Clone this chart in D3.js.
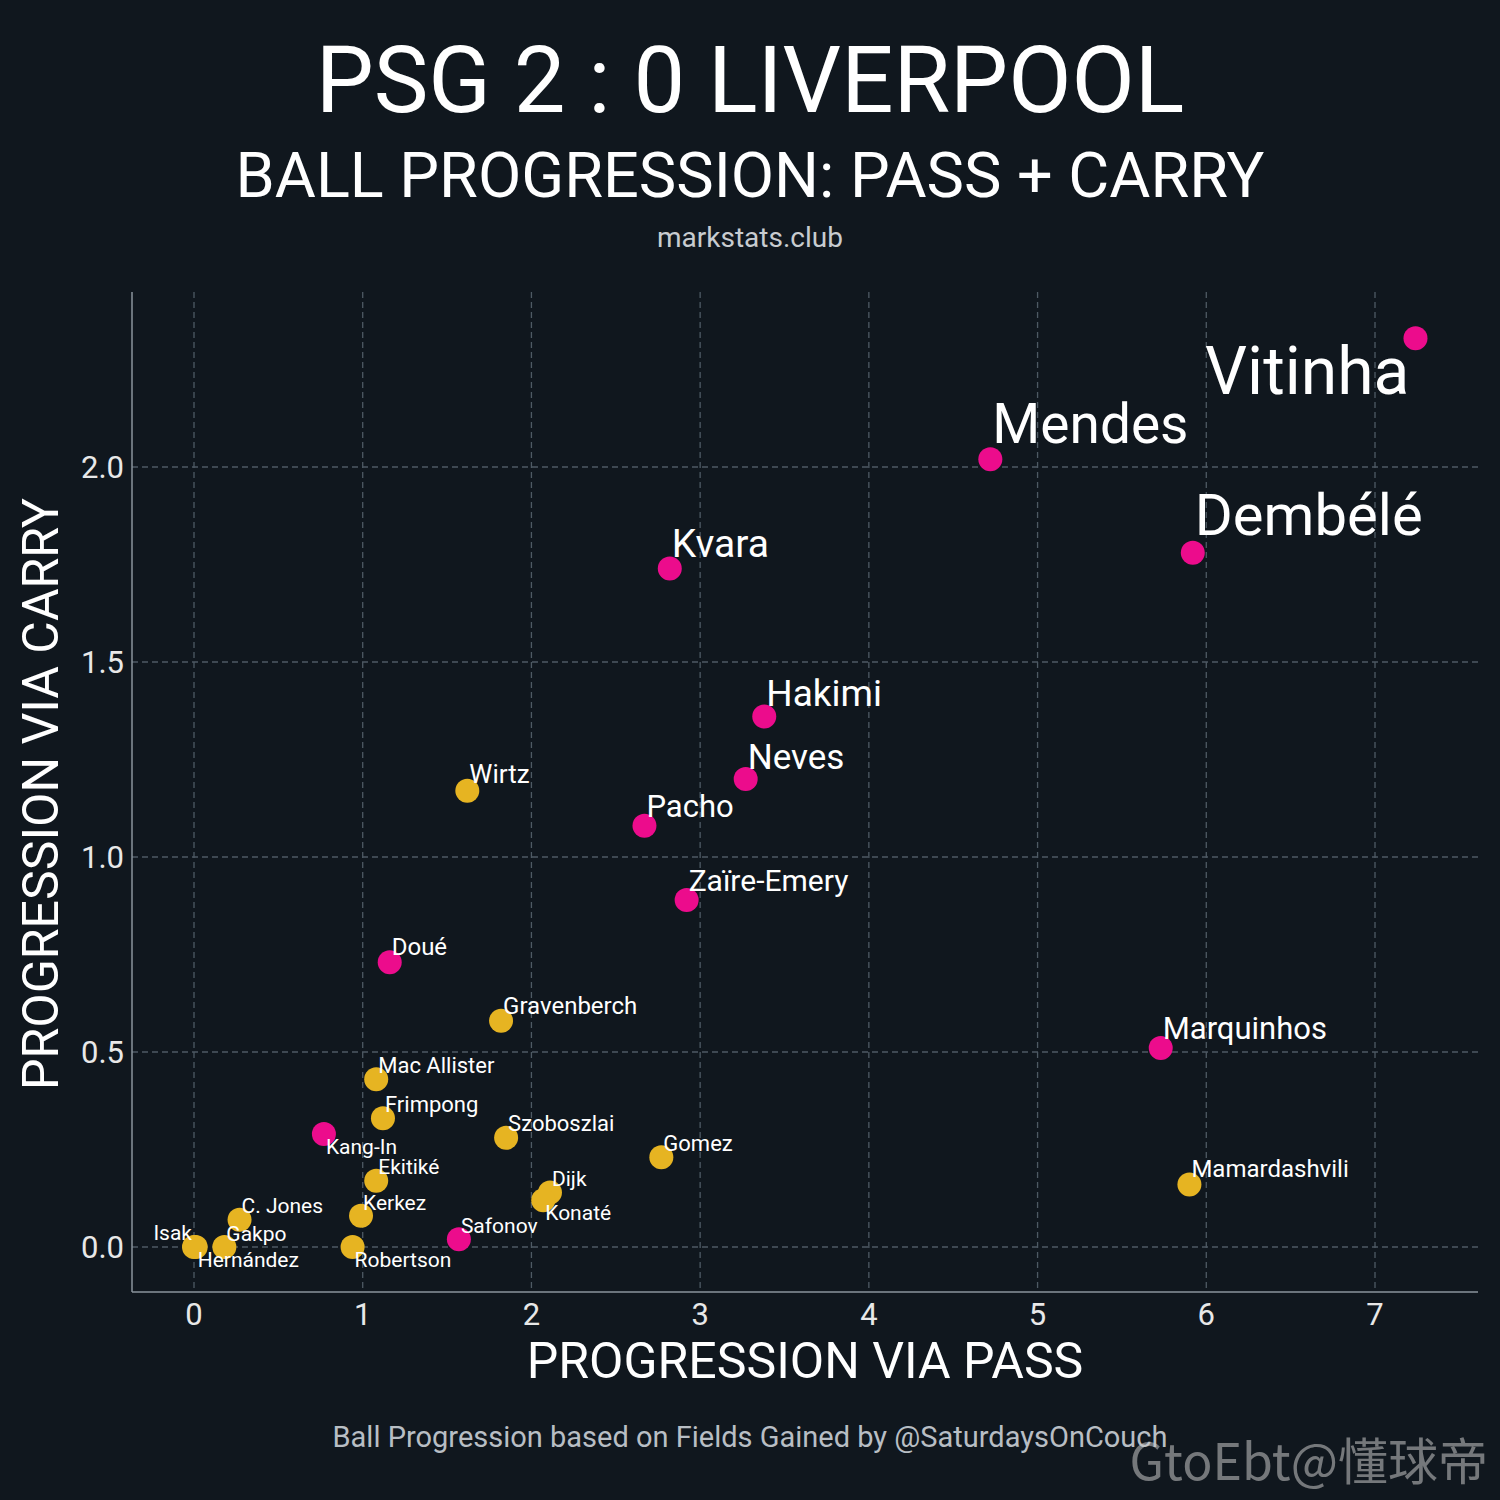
<!DOCTYPE html>
<html><head><meta charset="utf-8">
<script src="https://cdn.jsdelivr.net/npm/d3@7"></script>
<style>body{margin:0;background:#10171e}</style></head>
<body><svg id="c" width="1500" height="1500"></svg>
<script>
const players=["Vitinha","Mendes","Dembélé","Kvara","Hakimi","Neves","Pacho","Zaïre-Emery","Doué","Marquinhos","Safonov","Kang-In",
"Wirtz","Gravenberch","Mac Allister","Frimpong","Szoboszlai","Gomez","Mamardashvili","Ekitiké","Dijk","Konaté","Kerkez","C. Jones","Isak","Gakpo","Hernández","Robertson"];
const team=["PSG","PSG","PSG","PSG","PSG","PSG","PSG","PSG","PSG","PSG","PSG","PSG",
"LIV","LIV","LIV","LIV","LIV","LIV","LIV","LIV","LIV","LIV","LIV","LIV","LIV","LIV","LIV","LIV"];
const passProg=[7.24,4.72,5.92,2.82,3.38,3.27,2.67,2.92,1.16,5.73,1.57,0.77,1.62,1.82,1.08,1.12,1.85,2.77,5.90,1.08,2.11,2.07,0.99,0.27,0.0,0.18,0.01,0.94];
const carryProg=[2.33,2.02,1.78,1.74,1.36,1.20,1.08,0.89,0.73,0.51,0.02,0.29,1.17,0.58,0.43,0.33,0.28,0.23,0.16,0.17,0.14,0.12,0.08,0.07,0.0,0.0,0.0,0.0];
const labelSize=[66,55,58,39,37,35,31,30,24,31,21,21,26,24,22,22,22,22,24,21,21,21,21,21,21,21,21,21];
const labelPos=["belowleft","above","above","above","above","above","above","above","above","above","above","below",
"above","above","above","above","above","above","above","above","above","below","above","above","left","above","below","below"];
const xTicks=[0,1,2,3,4,5,6,7], yTicks=[0,0.5,1,1.5,2];

const svg=d3.select("#c"), F="Roboto, sans-serif";
svg.append("rect").attr("width",1500).attr("height",1500).attr("fill","#10171e");
const x=d3.scaleLinear().domain([0,7]).range([194,1375]);
const y=d3.scaleLinear().domain([0,2]).range([1247,467]);
const L=132,R=1478,T=292,B=1292;
svg.selectAll(".gx").data(xTicks).join("line").attr("x1",d=>x(d)).attr("x2",d=>x(d)).attr("y1",T).attr("y2",B)
 .attr("stroke","#4e5a64").attr("stroke-dasharray","6,4").attr("stroke-width",1.3);
svg.selectAll(".gy").data(yTicks).join("line").attr("y1",d=>y(d)).attr("y2",d=>y(d)).attr("x1",L).attr("x2",R)
 .attr("stroke","#4e5a64").attr("stroke-dasharray","6,4").attr("stroke-width",1.3);
svg.append("line").attr("x1",L).attr("x2",L).attr("y1",T).attr("y2",B).attr("stroke","#8a949c").attr("stroke-width",1.5);
svg.append("line").attr("x1",L).attr("x2",R).attr("y1",B).attr("y2",B).attr("stroke","#8a949c").attr("stroke-width",1.5);
svg.selectAll(".tx").data(xTicks).join("text").attr("x",d=>x(d)).attr("y",1325).attr("text-anchor","middle")
 .attr("fill","#e8e8e8").attr("font-family",F).attr("font-size",31).text(d=>d);
svg.selectAll(".ty").data(yTicks).join("text").attr("x",124).attr("y",d=>y(d)+11).attr("text-anchor","end")
 .attr("fill","#e8e8e8").attr("font-family",F).attr("font-size",31).text(d=>d.toFixed(1));
const t=(x0,y0,s,txt,col,anchor="middle")=>svg.append("text").attr("x",x0).attr("y",y0).attr("text-anchor",anchor)
 .attr("fill",col).attr("font-family",F).attr("font-size",s).text(txt);
t(750,112,92,"PSG 2 : 0 LIVERPOOL","#fff");
t(750,197,63,"BALL PROGRESSION: PASS + CARRY","#fff");
t(750,247,28,"markstats.club","#c8ccd0");
t(805,1378,50,"PROGRESSION VIA PASS","#fff");
svg.append("text").attr("transform","translate(58,794) rotate(-90)").attr("text-anchor","middle").attr("fill","#fff")
 .attr("font-family",F).attr("font-size",50).text("PROGRESSION VIA CARRY");
t(750,1447,29,"Ball Progression based on Fields Gained by @SaturdaysOnCouch","#b8bec4");
t(1488,1480,50,"GtoEbt@懂球帝","rgba(200,200,200,0.55)","end").attr("font-family","Noto Sans CJK SC, sans-serif");
const idx=d3.range(players.length);
svg.selectAll(".pt").data(idx).join("circle").attr("cx",i=>x(passProg[i])).attr("cy",i=>y(carryProg[i])).attr("r",12)
 .attr("fill",i=>team[i]==="PSG"?"#ec0c8c":"#e6b422");
const lx=i=>{const p=labelPos[i];return p==="left"?x(passProg[i])-2:p==="belowleft"?x(passProg[i])-6:x(passProg[i])+2;};
const ly=i=>{const p=labelPos[i],s=labelSize[i],c=y(carryProg[i]);
 return p==="below"?c+s*0.95:p==="belowleft"?c+s*0.84:p==="left"?c-7:c-s*0.3;};
svg.selectAll(".lb").data(idx).join("text").attr("x",lx).attr("y",ly)
 .attr("text-anchor",i=>(labelPos[i]==="left"||labelPos[i]==="belowleft")?"end":"start")
 .attr("fill","#fff").attr("font-family",F).attr("font-size",i=>labelSize[i]).text(i=>players[i]);
</script></body></html>
